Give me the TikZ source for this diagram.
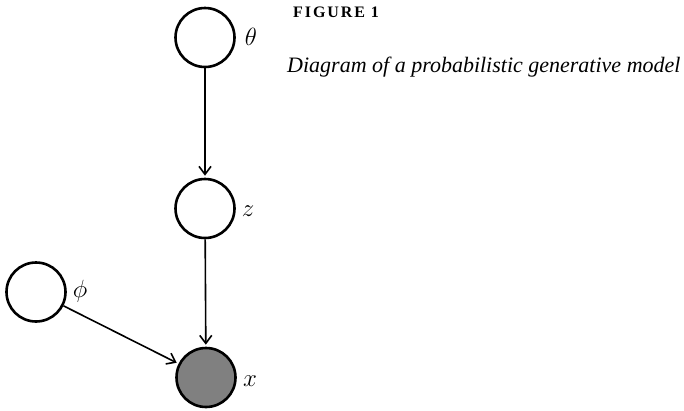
\documentclass[tikz,border=0pt]{standalone}
\usepackage{fontspec}
\newfontfamily\capfont{Liberation Serif}
\newfontfamily\figfont[LetterSpace=12]{Liberation Serif}
\usetikzlibrary{arrows.meta}
\begin{document}
\begin{tikzpicture}[x=1pt,y=-1pt,
  var/.style={circle,draw=black,line width=2.6pt,minimum size=59pt,inner sep=0pt,fill=white},
  obs/.style={var,fill=black!50},
  lbl/.style={font=\fontsize{24}{28}\selectfont,inner sep=0pt},
  edge/.style={-{Straight Barb[length=8pt,width=12pt,line width=1.6pt]},line width=1.6pt,shorten >=2pt}]
\useasboundingbox (0,0) rectangle (684,410);
\node[var] (theta) at (205,37.5) {};
\node[var] (z) at (205,208.5) {};
\node[var] (phi) at (36,292) {};
\node[obs] (x) at (206,377.5) {};
\node[lbl] (ltheta) at (251,37) {$\theta$};
\node[lbl] (lz) at (248,211) {$z$};
\node[lbl] (lphi) at (80,291) {$\phi$};
\node[lbl] (lx) at (250,381) {$x$};
\draw[edge] (theta) -- (z);
\draw[edge] (z) -- (x);
\draw[edge] (phi) -- (x);
\node[anchor=west,inner sep=0pt,font=\figfont\bfseries\fontsize{16}{18}\selectfont] (fig) at (293,12) {FIGURE 1};
\node[anchor=west,inner sep=0pt,font=\capfont\fontsize{22}{26}\selectfont\itshape] (cap) at (287,67) {Diagram of a probabilistic generative model};
\end{tikzpicture}
\end{document}
